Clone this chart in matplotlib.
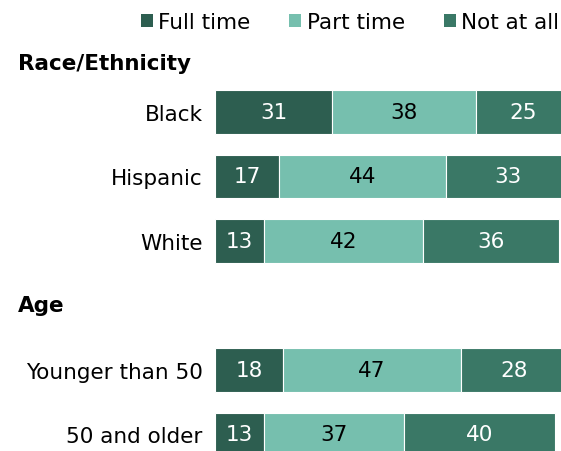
import matplotlib.pyplot as plt
import matplotlib.transforms as mtransforms
from matplotlib.patches import Patch

# Employment status by group, percent
groups = ["Black", "Hispanic", "White", "Younger than 50", "50 and older"]
rows = [0, 1, 2, 4, 5]
full_time = [31, 17, 13, 18, 13]
part_time = [38, 44, 42, 47, 37]
not_at_all = [25, 33, 36, 28, 40]

series = ["Full time", "Part time", "Not at all"]
colors = ["#2d5e50", "#76bfae", "#3a7866"]
text_colors = ["white", "black", "white"]

headers = ["Race/Ethnicity", "Age"]
header_rows = [-0.76, 3.0]

FS = 15.5

fig = plt.figure(figsize=(5.61, 4.52), dpi=100)
ax = fig.add_axes([215 / 561, 0, 1 - 215 / 561, 1])

left = [0] * len(groups)
for vals, col, tcol in zip([full_time, part_time, not_at_all], colors, text_colors):
    bars = ax.barh(rows, vals, left=left, height=0.67, color=col,
                   edgecolor="white", linewidth=0.8)
    for b, v in zip(bars, vals):
        ax.text(b.get_x() + b.get_width() / 2, b.get_y() + b.get_height() / 2,
                str(v), ha="center", va="center", color=tcol, fontsize=FS)
    left = [l + v for l, v in zip(left, vals)]

ax.set_xlim(0, 91.5)
ax.set_ylim(5.256, -1.752)
ax.set_yticks(rows)
ax.set_yticklabels(groups, fontsize=FS)
ax.tick_params(axis="y", length=0, pad=9)
ax.set_xticks([])
for s in ax.spines.values():
    s.set_visible(False)

# group headers on the left margin
trans = mtransforms.blended_transform_factory(fig.transFigure, ax.transData)
for h, r in zip(headers, header_rows):
    ax.text(18 / 561, r, h, transform=trans, ha="left", va="center",
            fontsize=FS, fontweight="bold")

handles = [Patch(facecolor=c, edgecolor="none") for c in colors]
fig.legend(handles, series, loc="center right", bbox_to_anchor=(559 / 561, 1 - 23 / 452),
           ncol=3, frameon=False, fontsize=FS, handlelength=0.56, handleheight=0.56,
           handletextpad=0.25, columnspacing=1.8, borderaxespad=0, borderpad=0)

fig.savefig("out.png", dpi=100)
